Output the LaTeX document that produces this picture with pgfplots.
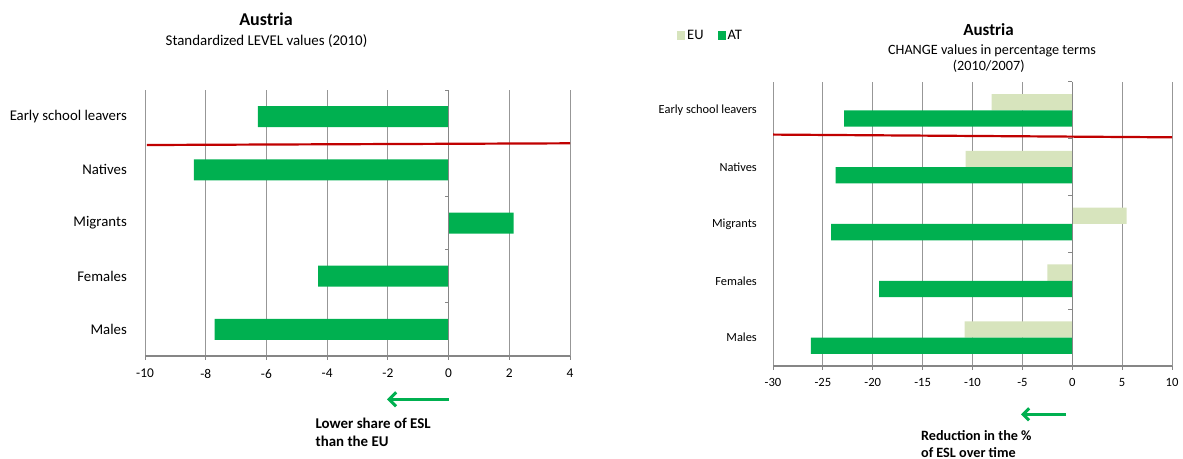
\documentclass[border=0pt]{standalone}
\usepackage{fontspec}
\setmainfont{Carlito}
\usepackage{pgfplots}
\pgfplotsset{compat=1.18}
\usetikzlibrary{arrows.meta}

\definecolor{atgreen}{HTML}{00B050}
\definecolor{eugreen}{HTML}{D7E4BD}
\definecolor{redline}{HTML}{C00000}
\definecolor{gridgray}{HTML}{979797}
\definecolor{axgray}{HTML}{868686}

\pgfplotsset{
  eslbase/.style={
    scale only axis,
    anchor=south west,
    xbar,
    ymin=-0.5, ymax=4.5,
    ytick={0,...,4},
    yticklabels={Males,Females,Migrants,Natives,Early school leavers},
    axis x line*=bottom,
    axis y line*=left,
    y axis line style={draw=none},
    x axis line style={draw=axgray, line width=1.8bp},
    ytick style={draw=none},
    xtick style={draw=axgray, line width=0.8bp},
    tick align=outside,
    major tick length=4bp,
    xmajorgrids,
    grid style={draw=gridgray, line width=0.9bp},
    yticklabel style={inner sep=0pt, anchor=east},
    xticklabel style={inner sep=0pt, anchor=north},
  },
}

\begin{document}
\begin{tikzpicture}
\path[use as bounding box] (0bp,0bp) rectangle (1183bp,459bp);

% left panel: level values
\begin{axis}[
  eslbase,
  at={(145bp,103bp)},
  width=425bp, height=266bp,
  bar width=21bp,
  xmin=-10, xmax=4,
  xtick={-10,-8,...,4},
  xticklabels={-10,-8,-6,-4,-2,0,2,4},
  yticklabel style={font=\fontsize{14.8bp}{16bp}\selectfont, xshift=-14bp},
  xticklabel style={font=\fontsize{13.4bp}{15bp}\selectfont, yshift=-9bp},
]
\addplot[fill=atgreen, draw=none] coordinates {
  (-7.71,0) (-4.30,1) (2.14,2) (-8.39,3) (-6.28,4)
};
\draw[axgray, line width=1.3bp] (axis cs:0,-0.5) -- (axis cs:0,4.5);
\pgfplotsinvokeforeach{0.5,1.5,2.5,3.5,4.5}{
  \draw[axgray, line width=1bp] (axis cs:0,#1) -- ++(-4bp,0bp);
}
\addplot[sharp plot, draw=redline, line width=2.2bp] coordinates {
  (-9.94,3.466) (4,3.498)
};
\end{axis}

% right panel: change values
\begin{axis}[
  eslbase,
  at={(773bp,93bp)},
  width=399bp, height=284bp,
  bar width=16.3bp,
  xmin=-30, xmax=10,
  xtick={-30,-25,...,10},
  xticklabels={-30,-25,-20,-15,-10,-5,0,5,10},
  yticklabel style={font=\fontsize{12.4bp}{14bp}\selectfont, xshift=-12bp},
  xticklabel style={font=\fontsize{12.6bp}{14bp}\selectfont, yshift=-8bp},
  legend style={at={(-0.248,1.165)}, anchor=west, draw=none, fill=none,
    legend columns=2, font=\fontsize{14.5bp}{16bp}\selectfont,
    /tikz/every even column/.append style={column sep=12bp}},
  legend image code/.code={\fill[#1] (0bp,-4.5bp) rectangle (8bp,4.5bp);},
]
\addplot[fill=eugreen, draw=none, bar shift=8.15bp] coordinates {
  (-10.8,0) (-2.5,1) (5.46,2) (-10.69,3) (-8.09,4)
};
\addlegendentry{EU}
\addplot[fill=atgreen, draw=none, bar shift=-8.15bp] coordinates {
  (-26.2,0) (-19.35,1) (-24.17,2) (-23.73,3) (-22.87,4)
};
\addlegendentry{AT}
\draw[axgray, line width=1.3bp] (axis cs:0,-0.5) -- (axis cs:0,4.5);
\pgfplotsinvokeforeach{0.5,1.5,2.5,3.5,4.5}{
  \draw[axgray, line width=1bp] (axis cs:0,#1) -- ++(-4bp,0bp);
}
\addplot[sharp plot, draw=redline, line width=2.2bp, forget plot] coordinates {
  (-30,3.574) (10,3.526)
};
\end{axis}

% titles
\node[anchor=base, inner sep=0pt, font=\fontsize{18bp}{20bp}\selectfont\bfseries] at (266bp,433bp) {Austria};
\node[anchor=base, inner sep=0pt, font=\fontsize{14.9bp}{17bp}\selectfont] at (266.5bp,413bp) {Standardized LEVEL values (2010)};
\node[anchor=base, inner sep=0pt, font=\fontsize{17bp}{19bp}\selectfont\bfseries] at (988.5bp,423.3bp) {Austria};
\node[anchor=base, inner sep=0pt, font=\fontsize{14.2bp}{16bp}\selectfont] at (992bp,404.7bp) {CHANGE values in percentage terms};
\node[anchor=base, inner sep=0pt, font=\fontsize{14.2bp}{16bp}\selectfont] at (988.7bp,388bp) {(2010/2007)};

% annotations
\draw[atgreen, line width=3bp, -{Straight Barb[length=7bp,width=14bp,line width=3bp]}] (449bp,59.7bp) -- (387bp,59.7bp);
\node[anchor=base west, inner sep=0pt, font=\fontsize{14.9bp}{17bp}\selectfont\bfseries] at (315.4bp,30.7bp) {Lower share of ESL};
\node[anchor=base west, inner sep=0pt, font=\fontsize{14.9bp}{17bp}\selectfont\bfseries] at (315.4bp,13bp) {than the EU};
\draw[atgreen, line width=3bp, -{Straight Barb[length=6bp,width=12bp,line width=3bp]}] (1066bp,44.7bp) -- (1021bp,44.7bp);
\node[anchor=base west, inner sep=0pt, font=\fontsize{14.2bp}{16bp}\selectfont\bfseries] at (920.9bp,18.3bp) {Reduction in the \%};
\node[anchor=base west, inner sep=0pt, font=\fontsize{14.2bp}{16bp}\selectfont\bfseries] at (920.9bp,1.8bp) {of ESL over time};
\end{tikzpicture}
\end{document}
